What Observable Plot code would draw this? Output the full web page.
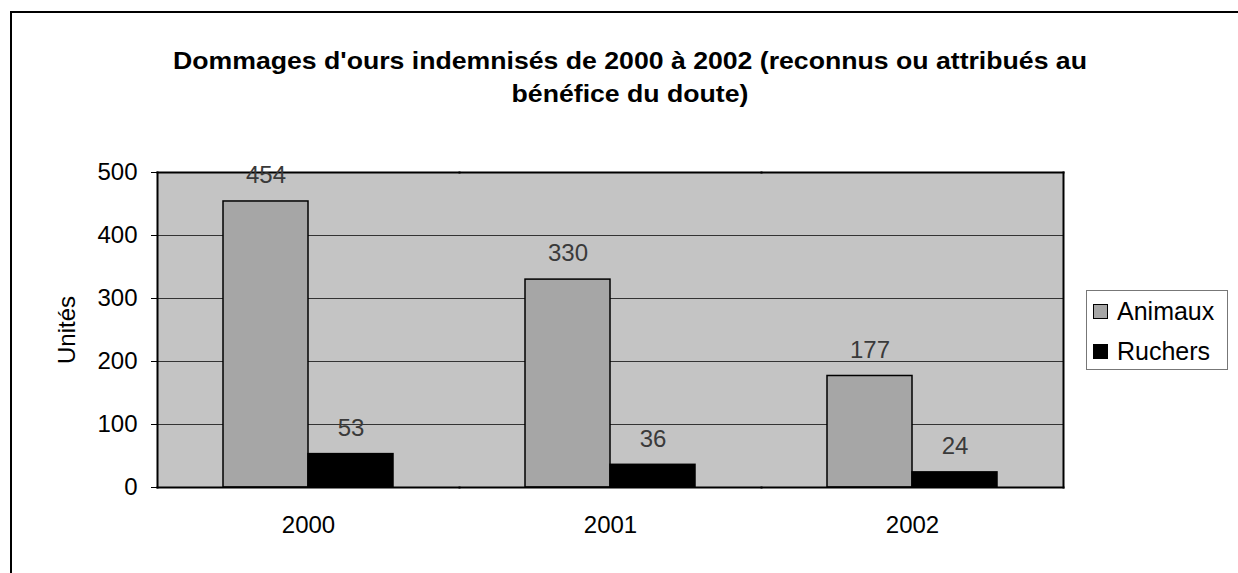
<!DOCTYPE html>
<html>
<head>
<meta charset="utf-8">
<script src="https://cdn.jsdelivr.net/npm/d3@7"></script>
<script src="https://cdn.jsdelivr.net/npm/@observablehq/plot@0.6"></script>
<style>
  body { margin: 0; background: #fff; font-family: "Liberation Sans", Arial, sans-serif; }
  #wrap { position: relative; width: 1238px; height: 573px; overflow: hidden; }
  #border { position: absolute; left: 10px; top: 11px; width: 1300px; height: 700px; border-left: 2px solid #000; border-top: 2px solid #000; }
  #title { position: absolute; left: 0; top: 44px; width: 1260px; text-align: center; font-weight: bold; font-size: 24px; line-height: 33px; color: #000; transform: scaleX(1.11); transform-origin: 630px 0; }
  #chart { position: absolute; left: 0; top: 140px; }
  #legend { position: absolute; left: 1086px; top: 290px; width: 142px; height: 80px; border: 1px solid #777; box-sizing: border-box; font-size: 25px; }
  .item { position: absolute; left: 6px; height: 28px; line-height: 28px; white-space: nowrap; }
  .sw { display: inline-block; width: 15px; height: 15px; box-sizing: border-box; border: 1.5px solid #000; vertical-align: middle; margin-right: 9px; position: relative; top: -2px; }
</style>
</head>
<body>
<div id="wrap">
  <div id="border"></div>
  <div id="title">Dommages d'ours indemnisés de 2000 à 2002 (reconnus ou attribués au<br>bénéfice du doute)</div>
  <div id="chart"></div>
  <div id="legend"></div>
</div>
<script>
const years = ["2000", "2001", "2002"];
const series = ["Animaux", "Ruchers"];
const animaux = [454, 330, 177];
const ruchers = [53, 36, 24];
const yTicks = [0, 100, 200, 300, 400, 500];
const gridTicks = [100, 200, 300, 400];
const colors = ["#a6a6a6", "#000000"];
const yLabel = "Unités";

const data = years.flatMap((y, i) => [
  {year: y, series: series[0], value: animaux[i]},
  {year: y, series: series[1], value: ruchers[i]}
]);

const chart = Plot.plot({
  width: 1238,
  height: 407,
  marginTop: 32,
  marginRight: 175,
  marginBottom: 60,
  marginLeft: 157,
  style: {fontFamily: "Liberation Sans, Arial, sans-serif", fontSize: "24px", color: "#000", background: "transparent", overflow: "visible"},
  fx: {domain: years, padding: 0, label: null},
  x: {domain: series, paddingInner: 0, paddingOuter: 0.756, axis: null},
  y: {domain: [0, 500]},
  color: {domain: series, range: colors},
  marks: [
    Plot.frame({fill: "#c4c4c4", stroke: null, shapeRendering: "crispEdges", insetRight: -0.5}),
    Plot.gridY(gridTicks, {stroke: "#333", strokeOpacity: 1, strokeWidth: 1}),
    Plot.barY(data, {fx: "year", x: "series", y: "value", fill: "series", stroke: "#000", strokeWidth: 1.5}),
    Plot.frame({anchor: "top", stroke: "#000", strokeWidth: 2}),
    Plot.frame({anchor: "bottom", stroke: "#000", strokeWidth: 2}),
    Plot.frame({anchor: "left", stroke: "#000", strokeWidth: 2, facetAnchor: "left"}),
    Plot.frame({anchor: "right", stroke: "#000", strokeWidth: 2, facetAnchor: "right"}),
    Plot.text(data, {fx: "year", x: "series", y: "value", text: d => String(d.value), dy: -26, fill: "#3a3a3a"}),
    Plot.axisY(yTicks, {tickSize: 6, tickPadding: 14, label: yLabel, labelAnchor: "center", labelOffset: 100, labelArrow: "none", fontSize: 24}),
    Plot.axisFx({anchor: "bottom", tickSize: 0, tickPadding: 28, label: null, fontSize: 24})
  ]
});
document.getElementById("chart").appendChild(chart);

const legend = document.getElementById("legend");
series.forEach((s, i) => {
  const it = document.createElement("div");
  it.className = "item";
  it.style.top = (6 + i * 40) + "px";
  const sw = document.createElement("span");
  sw.className = "sw";
  sw.style.background = colors[i];
  it.appendChild(sw);
  it.appendChild(document.createTextNode(s));
  legend.appendChild(it);
});
</script>
</body>
</html>
